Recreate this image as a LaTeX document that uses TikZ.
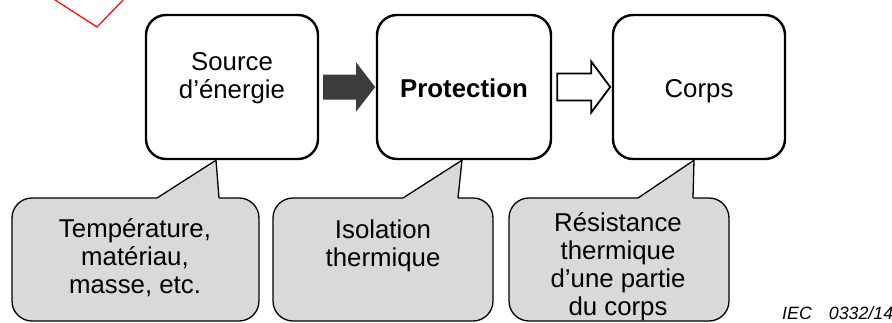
\documentclass[tikz,border=0pt]{standalone}
\usepackage{fontspec}
\setmainfont{Liberation Sans}
\usetikzlibrary{calc}
\definecolor{calloutgray}{RGB}{217,217,217}
\definecolor{arrowdark}{RGB}{60,60,60}
\newcommand{\bigfont}{\fontsize{25.8}{28}\selectfont}
\begin{document}
\begin{tikzpicture}[x=1pt,y=-1pt,
  box/.style={draw=black, line width=2.4pt, rounded corners=20pt, fill=white,
    minimum height=144pt, inner sep=0pt, text height=24pt, text depth=4pt, font=\bigfont},
  boxtext/.style={align=center, inner sep=0pt, font=\bigfont},
  cbody/.style={draw=black, line width=1.3pt, fill=calloutgray, rounded corners=20pt},
  cptrfill/.style={fill=calloutgray},
  cptr/.style={draw=black, line width=1.3pt, line join=miter},
  ctext/.style={align=center, inner sep=0pt, font=\bigfont},
  darrow/.style={fill=arrowdark, draw=none},
  harrow/.style={fill=white, draw=black, line width=1.8pt, line join=miter},
  iec/.style={inner sep=0pt, font=\fontsize{17.8}{20}\selectfont\itshape}
]
\useasboundingbox (0,0) rectangle (892,322);

% red mark
\draw[red, line width=1.2pt] (52,-2) -- (97,27) -- (125,-2);

% boxes
\node[box, minimum width=172pt] (s) at (232,87) {};
\node[boxtext] (st) at ([yshift=9pt]s.center) {Source\\d’énergie};
\node[box, minimum width=174pt, font=\bigfont\bfseries] (p) at (464,87) {Protection};
\node[box, minimum width=172pt] (c) at (699,87) {Corps};

% block arrows
\fill[darrow] ($(s.east)+(4,-12.5)$) -- ($(s.east)+(37,-12.5)$) -- ($(s.east)+(37,-24.5)$)
  -- ($(s.east)+(56,0)$) -- ($(s.east)+(37,24.5)$) -- ($(s.east)+(37,12.5)$)
  -- ($(s.east)+(4,12.5)$) -- cycle;
\draw[harrow] ($(p.east)+(5,-13.5)$) -- ($(p.east)+(39,-13.5)$) -- ($(p.east)+(39,-25.5)$)
  -- ($(p.east)+(58,0)$) -- ($(p.east)+(39,25.5)$) -- ($(p.east)+(39,13.5)$)
  -- ($(p.east)+(5,13.5)$) -- cycle;

% callout 1
\coordinate (t1) at ($(s.south)+(-16,0)$);
\draw[cbody] (12,198) rectangle (259,321);
\fill[cptrfill] (157,199.5) -- (157,198) -- (t1) -- (219,198) -- (219,199.5) -- cycle;
\draw[cptr] (157,198) -- (t1) -- (219,198);
\node[ctext] (k1) at (135,258) {Température,\\matériau,\\masse, etc.};

% callout 2
\coordinate (t2) at ($(p.south)+(-2,0)$);
\draw[cbody] (273,198) rectangle (493,321);
\fill[cptrfill] (403,199.5) -- (403,198) -- (t2) -- (458,198) -- (458,199.5) -- cycle;
\draw[cptr] (403,198) -- (t2) -- (458,198);
\node[ctext] (k2) at (383,245.5) {Isolation\\thermique};

% callout 3
\coordinate (t3) at ($(c.south)+(-5,0)$);
\draw[cbody] (509,198) rectangle (729,321);
\fill[cptrfill] (638,199.5) -- (638,198) -- (t3) -- (693,198) -- (693,199.5) -- cycle;
\draw[cptr] (638,198) -- (t3) -- (693,198);
\node[ctext] (k3) at (618,266.5) {Résistance\\thermique\\d’une partie\\du corps};

% reference
\node[iec, anchor=base west] (ref) at (782,319.5) {IEC\hspace{17pt}0332/14};
\end{tikzpicture}
\end{document}
